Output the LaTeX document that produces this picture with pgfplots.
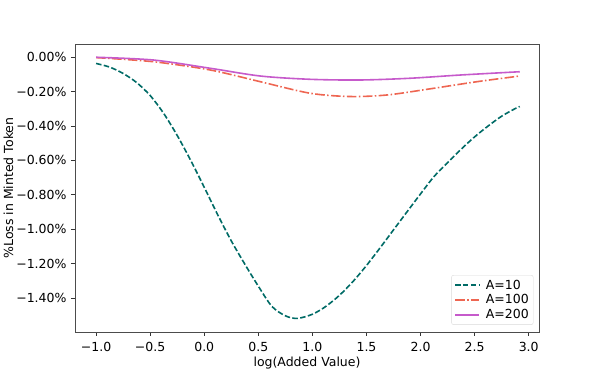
\documentclass[border=0pt]{standalone}
\usepackage{fontspec}
\setmainfont{DejaVu Sans}
\usepackage{pgfplots}
\pgfplotsset{compat=1.18}
\definecolor{cteal}{HTML}{006B66}
\definecolor{cred}{HTML}{EE6652}
\definecolor{cpurp}{HTML}{C65ACB}
\begin{document}
\begin{tikzpicture}[x=1pt,y=1pt]
\useasboundingbox (0,0) rectangle (600,374);
\begin{axis}[
  at={(75pt,42pt)}, anchor=south west,
  scale only axis, width=464pt, height=288pt,
  xmin=-1.195, xmax=3.095, ymin=-1.596, ymax=0.076,
  font=\fontsize{12.5}{15}\selectfont,
  xtick={-1,-0.5,0,0.5,1,1.5,2,2.5,3},
  xticklabels={−1.0,−0.5,0.0,0.5,1.0,1.5,2.0,2.5,3.0},
  ytick={-1.4,-1.2,-1.0,-0.8,-0.6,-0.4,-0.2,0},
  yticklabels={−1.40\%,−1.20\%,−1.00\%,−0.80\%,−0.60\%,−0.40\%,−0.20\%,0.00\%},
  tick align=outside, tick pos=left,
  major tick length=4pt,
  every tick/.style={black!80, line width=0.8pt},
  axis line style={black!70, line width=0.8pt},
  xticklabel style={yshift=-3pt},
  yticklabel style={xshift=-1pt},
  xlabel={log(Added Value)}, ylabel={\%Loss in Minted Token},
  xlabel style={yshift=2pt},
  ylabel style={yshift=-4pt},
  legend style={draw=black!15, rounded corners=2pt, font=\fontsize{12.5}{15}\selectfont, row sep=0pt, inner sep=2.5pt, at={(0.988,0.025)}, anchor=south east},
  legend cell align=left,
  legend image code/.code={\draw[#1, line width=2pt] (0pt,0pt) -- (24pt,0pt); \path (28pt,0pt);},
]
\addplot[cteal, line width=1.6pt, smooth, dash pattern=on 5.5pt off 2.4pt] coordinates {
(-1,-0.037) (-0.875,-0.058) (-0.75,-0.095) (-0.625,-0.148) (-0.5,-0.223) (-0.375,-0.327)
(-0.25,-0.455) (-0.125,-0.600) (0,-0.756) (0.125,-0.916) (0.25,-1.067) (0.375,-1.202)
(0.5,-1.33) (0.625,-1.447) (0.75,-1.502) (0.86,-1.517) (1.0,-1.493) (1.125,-1.447)
(1.25,-1.383) (1.375,-1.303) (1.5,-1.210) (1.625,-1.108) (1.75,-1.003) (1.875,-0.898)
(2.0,-0.794) (2.125,-0.693) (2.25,-0.613) (2.375,-0.535) (2.5,-0.463) (2.625,-0.400)
(2.75,-0.343) (2.875,-0.299) (2.917,-0.287)};
\addlegendentry{A=10}
\addplot[cred, line width=1.6pt, smooth, dash pattern=on 9.6pt off 2.4pt on 1.5pt off 2.4pt] coordinates {
(-1,-0.003) (-0.47,-0.027) (0.056,-0.075) (0.519,-0.143) (0.98,-0.21) (1.35,-0.229)
(1.69,-0.22) (2.06,-0.187) (2.52,-0.143) (2.917,-0.11)};
\addlegendentry{A=100}
\addplot[cpurp, line width=1.6pt, smooth] coordinates {
(-1,-0.001) (-0.47,-0.017) (0.056,-0.065) (0.52,-0.11) (0.98,-0.129) (1.44,-0.133)
(1.9,-0.123) (2.37,-0.104) (2.917,-0.085)};
\addlegendentry{A=200}
\end{axis}
\end{tikzpicture}
\end{document}
